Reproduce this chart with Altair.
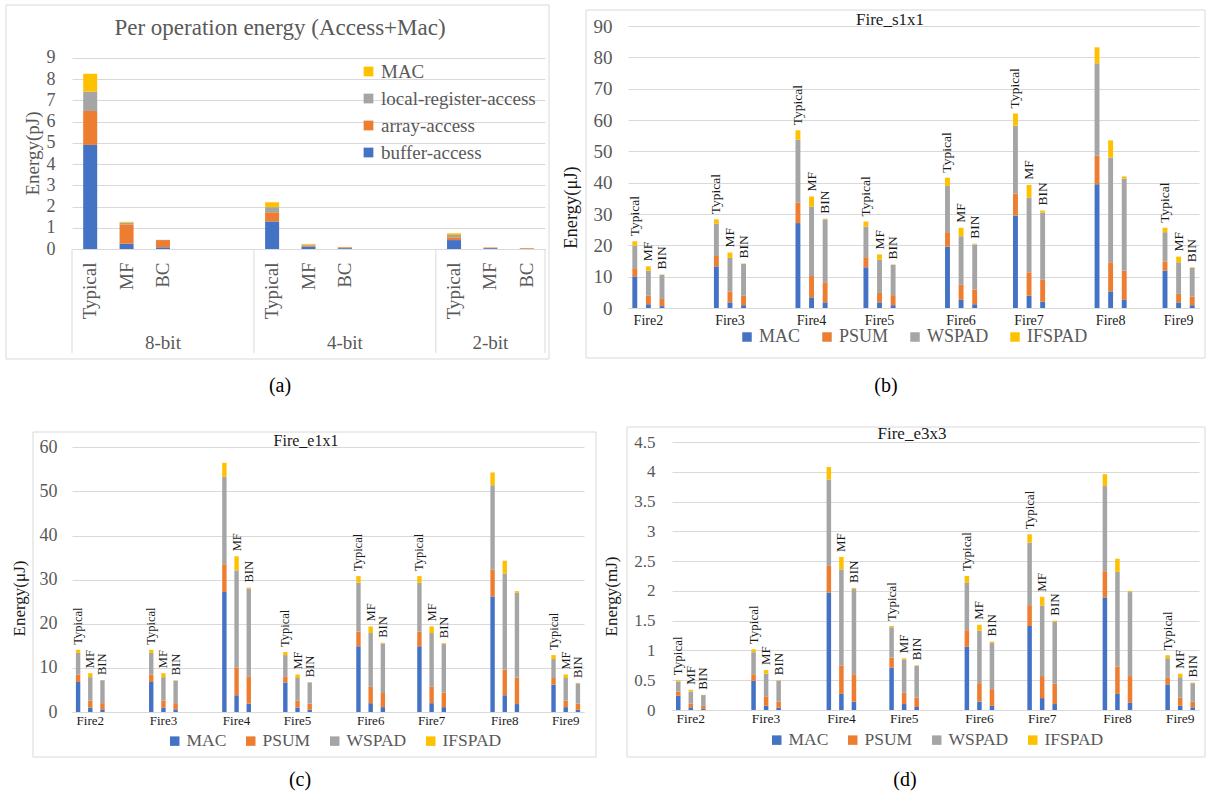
import altair as alt
import pandas as pd

SERIF = "Liberation Serif"
GRID = "#D9D9D9"
GREY = "#595959"
BLACK = "#1A1A1A"

# ---------------- (a) Per operation energy (Access+Mac) ----------------
a_bits = ["8-bit", "4-bit", "2-bit"]
a_variants = ["Typical", "MF", "BC"]
a_blank_slots = [2, 2, 0]  # empty Excel categories after each group
a_series = ["buffer-access", "array-access", "local-register-access", "MAC"]  # bottom -> top
a_colors = ["#4472C4", "#ED7D31", "#A5A5A5", "#FFC000"]
# bar order: 8-bit (Typical, MF, BC), 4-bit (...), 2-bit (...)
a_buffer = [4.90, 0.25, 0.08, 1.30, 0.12, 0.04, 0.42, 0.04, 0.01]
a_array = [1.60, 0.91, 0.34, 0.43, 0.05, 0.04, 0.13, 0.03, 0.03]
a_local = [0.91, 0.08, 0.01, 0.24, 0.03, 0.00, 0.11, 0.00, 0.00]
a_mac = [0.84, 0.04, 0.00, 0.23, 0.04, 0.00, 0.08, 0.00, 0.00]
a_yticks = [0, 1, 2, 3, 4, 5, 6, 7, 8, 9]

# ---------------- (b)-(d) Fire modules ----------------
fires = ["Fire2", "Fire3", "Fire4", "Fire5", "Fire6", "Fire7", "Fire8", "Fire9"]
fire_variants = ["Typical", "MF", "BIN"]
fire_blank_slots = [3, 3, 2, 3, 2, 3, 2, 0]  # empty Excel categories after each group
fire_series = ["MAC", "PSUM", "WSPAD", "IFSPAD"]  # bottom -> top
fire_colors = ["#4472C4", "#ED7D31", "#A5A5A5", "#FFC000"]

# Fire_s1x1 (uJ), order: Fire2 (Typical, MF, BIN), Fire3 (...), ...
s_mac = [10.1, 1.2, 0.6, 13.3, 1.8, 0.9, 27.1, 3.4, 1.8, 13.0, 1.8, 0.9,
         19.6, 2.6, 1.2, 29.5, 3.9, 2.0, 39.5, 5.3, 2.6, 11.9, 1.8, 0.9]
s_psum = [2.6, 2.7, 2.3, 3.3, 3.5, 3.0, 6.6, 6.8, 6.4, 3.2, 3.0, 3.2,
          4.6, 4.8, 4.7, 7.0, 7.5, 7.0, 9.1, 9.3, 9.3, 2.9, 2.7, 2.8]
s_wspad = [7.2, 8.0, 7.7, 10.3, 10.7, 10.2, 20.0, 22.2, 20.1, 9.8, 10.6, 9.7,
           14.8, 15.5, 14.4, 21.7, 23.8, 21.4, 29.5, 33.4, 29.4, 9.4, 10.1, 9.1]
s_ifspad = [1.4, 1.4, 0.1, 1.4, 1.7, 0.1, 3.0, 3.2, 0.2, 1.6, 1.7, 0.1,
            2.6, 2.7, 0.2, 3.9, 4.1, 0.7, 5.1, 5.5, 0.7, 1.4, 1.8, 0.2]

# Fire_e1x1 (uJ)
e1_mac = [6.8, 1.0, 0.6, 6.8, 1.0, 0.6, 27.2, 3.8, 1.9, 6.7, 1.0, 0.5,
          14.9, 2.0, 1.1, 14.9, 2.0, 1.1, 26.2, 3.8, 1.8, 6.2, 1.1, 0.5]
e1_psum = [1.7, 1.6, 1.4, 1.7, 1.6, 1.4, 6.3, 6.3, 6.2, 1.4, 1.6, 1.4,
           3.3, 3.7, 3.2, 3.3, 3.7, 3.3, 6.1, 5.8, 6.0, 1.5, 1.5, 1.4]
e1_wspad = [4.9, 5.3, 5.2, 4.9, 5.3, 5.1, 19.8, 22.0, 19.9, 4.8, 5.1, 4.8,
            11.1, 12.2, 11.2, 11.1, 12.2, 11.0, 19.1, 21.8, 19.2, 4.3, 5.1, 4.6]
e1_ifspad = [0.7, 0.9, 0.05, 0.7, 0.9, 0.1, 3.2, 3.2, 0.2, 0.7, 0.8, 0.05,
             1.5, 1.5, 0.2, 1.5, 1.5, 0.2, 2.9, 2.9, 0.4, 0.9, 0.8, 0.1]

# Fire_e3x3 (mJ)
e3_mac = [0.24, 0.045, 0.02, 0.49, 0.07, 0.04, 1.97, 0.27, 0.14, 0.71, 0.10, 0.05,
          1.06, 0.14, 0.07, 1.41, 0.20, 0.10, 1.89, 0.27, 0.12, 0.43, 0.07, 0.045]
e3_psum = [0.07, 0.065, 0.05, 0.11, 0.16, 0.10, 0.45, 0.48, 0.46, 0.17, 0.19, 0.16,
           0.28, 0.31, 0.28, 0.35, 0.37, 0.34, 0.44, 0.46, 0.45, 0.11, 0.14, 0.095]
e3_wspad = [0.17, 0.20, 0.18, 0.37, 0.38, 0.35, 1.45, 1.61, 1.43, 0.51, 0.56, 0.53,
            0.80, 0.88, 0.78, 1.05, 1.18, 1.04, 1.43, 1.59, 1.41, 0.33, 0.34, 0.31]
e3_ifspad = [0.02, 0.03, 0.005, 0.05, 0.06, 0.01, 0.21, 0.21, 0.02, 0.02, 0.02, 0.01,
             0.11, 0.10, 0.02, 0.14, 0.15, 0.02, 0.20, 0.22, 0.02, 0.05, 0.06, 0.01]

s_hidden_labels = [("Fire8", "Typical"), ("Fire8", "MF"), ("Fire8", "BIN")]
e_hidden_labels = [("Fire4", "Typical"), ("Fire8", "Typical"), ("Fire8", "MF"), ("Fire8", "BIN")]


# ---------------- helpers ----------------
def slot_list(groups, variants, blanks):
    slots = []
    for g, nb in zip(groups, blanks):
        slots += [f"{g}|{v}" for v in variants]
        slots += [f"{g}|~{i}" for i in range(nb)]
    return slots


def rect(box, visible=True):
    x1, y1, x2, y2 = box
    src = alt.Chart(pd.DataFrame({"k": [0]}))
    if visible:
        m = src.mark_rect(fillOpacity=0, stroke=GRID, strokeWidth=1)
    else:
        m = src.mark_rect(fillOpacity=0, strokeOpacity=0)
    return m.encode(x=alt.value(x1), y=alt.value(y1), x2=alt.value(x2), y2=alt.value(y2))


def text(s, xy, size, color):
    return alt.Chart(pd.DataFrame({"t": [s]})).mark_text(
        font=SERIF, fontSize=size, color=color, align="center", baseline="middle"
    ).encode(x=alt.value(xy[0]), y=alt.value(xy[1]), text="t:N")


def y_axis(values, size, pad, title, tsize, txy, tcolor, fmt=None):
    kw = dict(values=values, grid=True, gridColor=GRID, gridWidth=1, domain=False,
              ticks=False, tickSize=0, labelFont=SERIF, labelFontSize=size,
              labelColor=GREY, labelPadding=pad, title=title, titleFont=SERIF,
              titleFontSize=tsize, titleColor=tcolor, titleFontWeight="normal",
              titleX=txy[0], titleY=txy[1], titleAngle=270, titleAlign="center",
              titleBaseline="middle")
    if fmt:
        kw["format"] = fmt
    return alt.Axis(**kw)


# ---------------- panel (a) ----------------
def panel_a():
    w, h = 473, 223
    slots = slot_list(a_bits, a_variants, a_blank_slots)
    xs = alt.Scale(domain=slots, paddingInner=0, paddingOuter=0)
    ys = alt.Scale(domain=[0, 10.5], nice=False, zero=True)
    xax = alt.Axis(
        title=None,
        labelExpr="indexof(['Typical','MF','BC'], split(datum.label, '|')[1]) >= 0 ? split(datum.label, '|')[1] : ''",
        labelAngle=270, labelAlign="right", labelBaseline="middle", labelPadding=13,
        labelFont=SERIF, labelFontSize=19, labelColor=GREY, ticks=False, tickSize=0,
        domainColor=GRID, labelOverlap=False, grid=False)
    rows = []
    k = 0
    for b in a_bits:
        for v in a_variants:
            for si, arr in enumerate([a_buffer, a_array, a_local, a_mac]):
                rows.append(dict(slot=f"{b}|{v}", series=a_series[si], value=arr[k], ord=si))
            k += 1
    df = pd.DataFrame(rows)
    leg_domain = a_series[::-1]
    leg_range = a_colors[::-1]
    bars = alt.Chart(df).mark_bar(width=alt.RelativeBandSize(0.385)).encode(
        x=alt.X("slot:N", scale=xs, axis=xax),
        y=alt.Y("value:Q", stack="zero", scale=ys,
                axis=y_axis(a_yticks, 18, 17, "Energy(pJ)", 19, (-40, 127), GREY)),
        color=alt.Color("series:N", scale=alt.Scale(domain=leg_domain, range=leg_range),
                        legend=alt.Legend(orient="none", legendX=287, legendY=36,
                                          direction="vertical", title=None, labelFont=SERIF,
                                          labelFontSize=19, labelColor=GREY, symbolType="square",
                                          symbolSize=95, symbolStrokeWidth=0, rowPadding=7,
                                          labelOffset=3, padding=0, labelLimit=400)),
        order=alt.Order("ord:Q"),
    )
    firsts, mids = [], []
    for b in a_bits:
        grp = [s for s in slots if s.startswith(b + "|")]
        firsts.append(grp[0])
        mids.append(grp[(len(grp) - 1) // 2])
    lasts = [slots[-1]]
    div_start = alt.Chart(pd.DataFrame({"slot": firsts})).mark_rule(color=GRID, strokeWidth=1).encode(
        x=alt.X("slot:N", scale=xs, axis=xax, bandPosition=0), y=alt.value(h), y2=alt.value(327))
    div_end = alt.Chart(pd.DataFrame({"slot": lasts})).mark_rule(color=GRID, strokeWidth=1).encode(
        x=alt.X("slot:N", scale=xs, axis=xax, bandPosition=1), y=alt.value(h), y2=alt.value(327))
    grp_lab = alt.Chart(pd.DataFrame({"slot": mids, "name": a_bits})).mark_text(
        font=SERIF, fontSize=19, color=GREY, baseline="middle").encode(
        x=alt.X("slot:N", scale=xs, axis=xax), y=alt.value(317), text="name:N")
    return alt.layer(
        rect((-72, -26, 483, 384), visible=False),
        rect((-66, -21, 477, 333)),
        bars, div_start, div_end, grp_lab,
        text("Per operation energy (Access+Mac)", (208, 2), 23, GREY),
        text("(a)", (208, 360), 20, "#000000"),
    ).properties(width=w, height=h)


# ---------------- panels (b)-(d) ----------------
def fire_panel(c):
    slots = slot_list(fires, fire_variants, fire_blank_slots)
    xs = alt.Scale(domain=slots, paddingInner=0, paddingOuter=0)
    ys = alt.Scale(domain=[0, c["ymax"]], nice=False, zero=True)
    xax = alt.Axis(
        title=None,
        labelExpr="split(datum.label, '|')[1] == 'MF' ? split(datum.label, '|')[0] : ''",
        labelAngle=0, labelPadding=c["xlab_pad"], labelFont=SERIF,
        labelFontSize=c["xlab_size"], labelColor=BLACK, ticks=False, tickSize=0,
        domainColor=GRID, labelOverlap=False, grid=False)
    yax = y_axis(c["yticks"], c["tick_size"], c["tick_pad"], c["unit"],
                 c["ytitle_size"], c["ytitle_xy"], BLACK, c.get("fmt"))
    rows, tots = [], []
    k = 0
    for g in fires:
        for v in fire_variants:
            total = 0.0
            for si, arr in enumerate(c["values"]):
                rows.append(dict(slot=f"{g}|{v}", series=fire_series[si], value=arr[k], ord=si))
                total += arr[k]
            if (g, v) not in c["hidden"]:
                tots.append(dict(slot=f"{g}|{v}", total=total, label=v))
            k += 1
    df = pd.DataFrame(rows)
    tdf = pd.DataFrame(tots)
    bars = alt.Chart(df).mark_bar(width=alt.RelativeBandSize(0.36)).encode(
        x=alt.X("slot:N", scale=xs, axis=xax),
        y=alt.Y("value:Q", stack="zero", scale=ys, axis=yax),
        color=alt.Color("series:N", scale=alt.Scale(domain=fire_series, range=fire_colors),
                        legend=alt.Legend(orient="none", legendX=c["leg_xy"][0],
                                          legendY=c["leg_xy"][1], direction="horizontal",
                                          columns=4, title=None, labelFont=SERIF,
                                          labelFontSize=c["leg_size"], labelColor=GREY,
                                          symbolType="square", symbolSize=90,
                                          symbolStrokeWidth=0, columnPadding=c["leg_colpad"],
                                          labelOffset=3, padding=0, labelLimit=400)),
        order=alt.Order("ord:Q"),
    )
    labels = alt.Chart(tdf).mark_text(
        angle=270, align="left", baseline="middle", dx=5, font=SERIF,
        fontSize=c["barlab_size"], color=BLACK).encode(
        x=alt.X("slot:N", scale=xs, axis=xax),
        y=alt.Y("total:Q", scale=ys, axis=yax),
        text="label:N")
    return alt.layer(
        rect(c["cell"], visible=False),
        rect(c["box"]),
        bars, labels,
        text(c["title"], c["title_xy"], c["title_size"], BLACK),
        text(c["caption"], c["cap_xy"], 20, "#000000"),
    ).properties(width=c["w"], height=c["h"])


b_cfg = dict(title="Fire_s1x1", unit="Energy(μJ)", values=[s_mac, s_psum, s_wspad, s_ifspad],
             ymax=90, yticks=list(range(0, 91, 10)), w=571, h=282,
             hidden=s_hidden_labels, cell=(-73, -26, 583, 384), box=(-42, -16, 577, 332),
             title_xy=(262, -6), title_size=17, caption="(b)", cap_xy=(258, 360),
             ytitle_xy=(-58, 181), ytitle_size=18.5, tick_size=19, tick_pad=16,
             xlab_size=14, xlab_pad=5, barlab_size=13.5, leg_xy=(110, 302), leg_size=18,
             leg_colpad=17)
c_cfg = dict(title="Fire_e1x1", unit="Energy(μJ)", values=[e1_mac, e1_psum, e1_wspad, e1_ifspad],
             ymax=61.2, yticks=list(range(0, 61, 10)), w=512, h=270,
             hidden=e_hidden_labels, cell=(-72, -32, 526, 350), box=(-39, -10, 524, 315),
             title_xy=(234, -1), title_size=16, caption="(c)", cap_xy=(228, 338),
             ytitle_xy=(-53, 156), ytitle_size=17, tick_size=18, tick_pad=15,
             xlab_size=13, xlab_pad=2, barlab_size=12.5, leg_xy=(94, 290), leg_size=17.5,
             leg_colpad=15)
d_cfg = dict(title="Fire_e3x3", unit="Energy(mJ)", values=[e3_mac, e3_psum, e3_wspad, e3_ifspad],
             ymax=4.5, yticks=[0, 0.5, 1, 1.5, 2, 2.5, 3, 3.5, 4, 4.5], w=527, h=268,
             hidden=e_hidden_labels, cell=(-74, -32, 539, 350), box=(-45, -15, 533, 315),
             title_xy=(240, -8), title_size=17, caption="(d)", cap_xy=(233, 338),
             ytitle_xy=(-61, 154), ytitle_size=17, tick_size=17, tick_pad=17,
             xlab_size=13.5, xlab_pad=1, barlab_size=13, leg_xy=(96, 289), leg_size=17.5,
             leg_colpad=15, fmt="~g")


def indep(ch):
    return ch.resolve_scale(x="independent", y="independent", color="independent").resolve_legend(
        color="independent")


row1 = indep(alt.hconcat(panel_a(), fire_panel(b_cfg), spacing=0))
row2 = indep(alt.hconcat(fire_panel(c_cfg), fire_panel(d_cfg), spacing=0))
chart = indep(alt.vconcat(row1, row2, spacing=0)).properties(
    padding=0, background="white"
).configure_view(strokeWidth=0)

chart.save("out.html", embed_options={"renderer": "svg", "actions": False})
